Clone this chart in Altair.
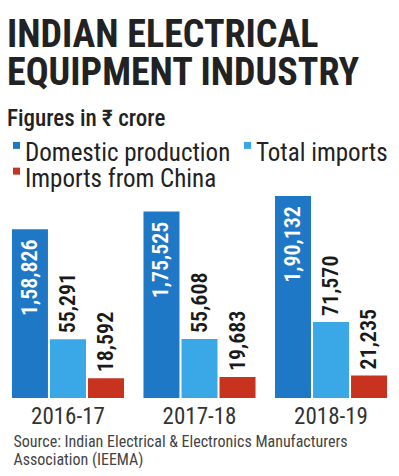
import altair as alt
import pandas as pd

# ---- data ----
years = ["2016-17", "2017-18", "2018-19"]
series = ["Domestic production", "Total imports", "Imports from China"]
domestic = [158826, 175525, 190132]
total_imports = [55291, 55608, 71570]
china_imports = [18592, 19683, 21235]
colors = ["#1f78c6", "#3aa7e7", "#c8331f"]

title_lines = ["INDIAN ELECTRICAL", "EQUIPMENT INDUSTRY"]
subtitle = "Figures in \u20b9 crore"
source_lines = ["Source: Indian Electrical & Electronics Manufacturers",
                "Association (IEEMA)"]

FONT = "Roboto Condensed, Roboto, sans-serif"


def indian(n):
    s = str(n)
    last3, rest = s[-3:], s[:-3]
    parts = []
    while len(rest) > 2:
        parts.insert(0, rest[-2:])
        rest = rest[:-2]
    if rest:
        parts.insert(0, rest)
    return ",".join(parts + [last3])


rows = []
for i, yr in enumerate(years):
    for s, vals in zip(series, [domestic, total_imports, china_imports]):
        rows.append({"year": yr, "series": s, "value": vals[i],
                     "label": indian(vals[i]), "inside": s == series[0]})
df = pd.DataFrame(rows)

base = alt.Chart(df).encode(
    x=alt.X("year:N", sort=years,
            scale=alt.Scale(paddingInner=0.148, paddingOuter=0.03),
            axis=alt.Axis(title=source_lines, labelAngle=0, ticks=False, domain=False,
                          tickSize=0, labelPadding=7, labelFont=FONT, labelFontSize=23,
                          labelColor="#333333", titleFont=FONT, titleFontSize=16,
                          titleFontWeight="normal", titleColor="#444444",
                          titleAnchor="start", titleAlign="left", titleX=5, titleY=35,
                          titleBaseline="top", titleLineHeight=18)),
    xOffset=alt.XOffset("series:N", sort=series,
                        scale=alt.Scale(domain=series, paddingInner=0.053, paddingOuter=0)),
    y=alt.Y("value:Q", scale=alt.Scale(domain=[0, 194000], nice=False), axis=None),
)

bars = base.mark_bar().encode(
    color=alt.Color("series:N", sort=series,
                    scale=alt.Scale(domain=series, range=colors),
                    legend=alt.Legend(orient="none", legendX=-8, legendY=-52,
                                      direction="horizontal", columns=2, title=None,
                                      labelFont=FONT, labelFontSize=25, labelColor="#222222",
                                      labelLimit=400,
                                      symbolType="M0.14,-3.1H2.14V-1.1H0.14Z", symbolSize=49,
                                      symbolStrokeWidth=0, labelOffset=0, columnPadding=0,
                                      rowPadding=0, padding=0, labelBaseline="middle"))
)

inside = base.transform_filter("datum.inside").mark_text(
    angle=270, align="right", baseline="middle", dx=-10, color="white",
    font=FONT, fontSize=22, fontWeight=600
).encode(text="label:N")

above = base.transform_filter("!datum.inside").mark_text(
    angle=270, align="left", baseline="middle", dx=6, color="#1a1a1a",
    font=FONT, fontSize=22, fontWeight=600
).encode(text="label:N")

chart = alt.layer(bars, inside, above).properties(
    width=383, height=206,
    title=alt.TitleParams(text=title_lines, subtitle=subtitle, anchor="start", dx=7,
                          font=FONT, fontSize=38, fontWeight="bold", color="#222222",
                          lineHeight=38, subtitleFont=FONT, subtitleFontSize=23,
                          subtitleFontWeight=500, subtitleColor="#222222",
                          subtitlePadding=15, offset=9),
    autosize=alt.AutoSizeParams(type="none"),
    padding={"left": 0, "top": 184, "right": 0, "bottom": 70},
).configure_view(strokeWidth=0)

chart.save("out.html", embed_options={"renderer": "svg", "actions": False})
